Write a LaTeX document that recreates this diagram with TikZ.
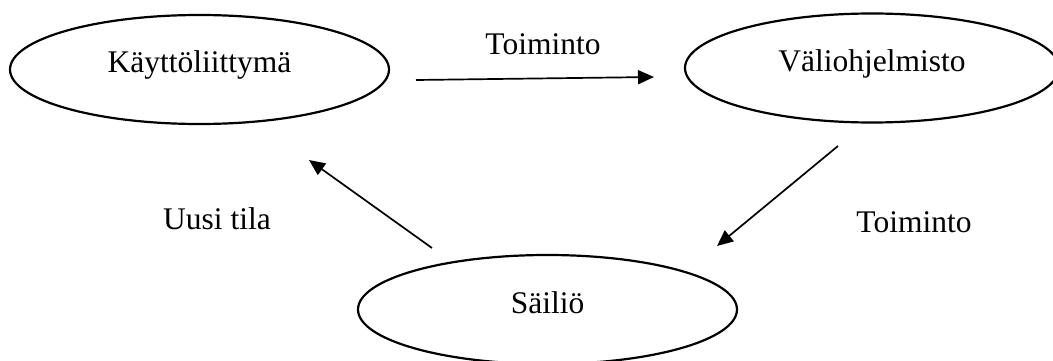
\documentclass[tikz,border=0pt]{standalone}
\usepackage{fontspec}
\setmainfont{Liberation Serif}
\usetikzlibrary{shapes.geometric,arrows.meta}
\begin{document}
\begin{tikzpicture}[x=1pt,y=-1pt,
  state/.style={ellipse,draw,line width=2.2pt,inner sep=0pt,
    minimum width=379pt,minimum height=109pt,
    font=\fontsize{31.5}{36}\selectfont,text height=14pt,text depth=7pt},
  lbl/.style={anchor=base,inner sep=0pt,font=\fontsize{31.5}{36}\selectfont},
  flow/.style={line width=1.7pt,-{Triangle[length=16pt,width=14pt]}}]
\useasboundingbox (0,0) rectangle (1053,361);
\clip (0,0) rectangle (1053,361);
\node[state] (ui) at (199.5,69.5) {Käyttöliittymä};
\node[state,minimum width=374pt] (mw) at (872,68) {Väliohjelmisto};
\node[state] (st) at (547.5,309.5) {Säiliö};
\coordinate (a1s) at (416,80);
\coordinate (a1e) at (654,77);
\coordinate (a2s) at (838,146);
\coordinate (a2e) at (717,246);
\coordinate (a3s) at (432,248);
\coordinate (a3e) at (309,160);
\draw[flow] (a1s) -- (a1e);
\draw[flow] (a2s) -- (a2e);
\draw[flow] (a3s) -- (a3e);
\node[lbl] (l1) at (543,55) {Toiminto};
\node[lbl] (l2) at (914,232) {Toiminto};
\node[lbl] (l3) at (217,229.5) {Uusi tila};
\end{tikzpicture}
\end{document}
